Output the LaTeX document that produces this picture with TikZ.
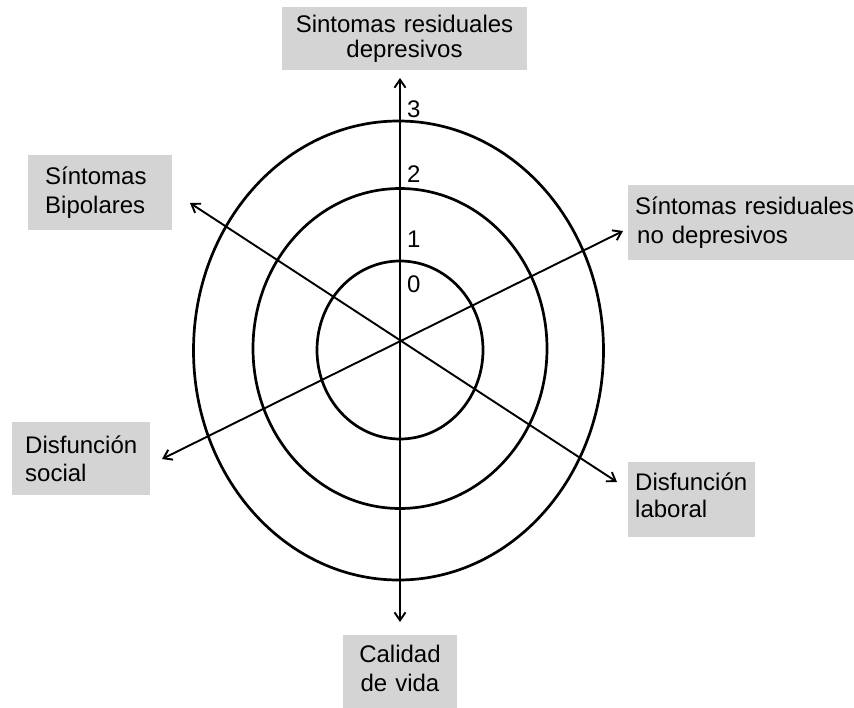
\documentclass[tikz,border=0pt]{standalone}
\usepackage{fontspec}
\setmainfont{Liberation Sans}
\usetikzlibrary{arrows.meta}
\definecolor{boxgray}{RGB}{212,212,212}
\begin{document}
\begin{tikzpicture}[x=1pt,y=-1pt,
  ring/.style={line width=2.7pt},
  axis/.style={line width=1.9pt,{Straight Barb[length=8pt,width=11pt]}-{Straight Barb[length=8pt,width=11pt]}},
  lbl/.style={fill=boxgray,inner ysep=0pt,anchor=north west},
  num/.style={anchor=base west,inner sep=0pt,font=\fontsize{24}{28}\selectfont}]
\useasboundingbox (0,0) rectangle (854,707);
\fill[white] (0,0) rectangle (854,707);
% labels
\node[lbl, anchor=north, align=center, text width=245pt, inner xsep=0pt, minimum height=63pt,
      font=\fontsize{24}{25}\selectfont] (top) at (404.5,7) {Sintomas residuales\\depresivos};
\node[lbl, align=left, text width=110pt, inner xsep=17pt, minimum height=75pt,
      font=\fontsize{24}{29}\selectfont] (bip) at (28,155) {Síntomas\\Bipolares};
\node[lbl, align=left, text width=220pt, inner xsep=7pt, minimum height=75pt,
      font=\fontsize{24}{29}\selectfont] (res) at (628,185) {Síntomas residuales\\\hspace*{2pt}no depresivos};
\node[lbl, align=left, text width=112pt, inner xsep=13pt, minimum height=73pt,
      font=\fontsize{24}{28}\selectfont] (soc) at (12,422) {Disfunción\\social};
\node[lbl, align=left, text width=113pt, inner xsep=7pt, minimum height=75pt,
      font=\fontsize{24}{27}\selectfont] (lab) at (628,462) {Disfunción\\laboral\rule[-9pt]{0pt}{1pt}};
\node[lbl, anchor=north, align=center, text width=100pt, inner xsep=7pt, inner ysep=10pt,
      font=\fontsize{24}{29}\selectfont] (cal) at (400,635) {Calidad\\de vida\rule[-20pt]{0pt}{1pt}};
% scale numbers
\node[num] (n3) at (407,117) {3};
\node[num] (n2) at (407,182) {2};
\node[num] (n1) at (407,247) {1};
\node[num] (n0) at (407,292) {0};
% rings
\draw[ring] (400,350) ellipse [x radius=83pt, y radius=89pt];
\draw[ring] (400,348.5) ellipse [x radius=147pt, y radius=160pt];
\draw[ring] (398.5,350.5) ellipse [x radius=205pt, y radius=229.5pt];
% axes
\coordinate (c) at (400,340.5);
\coordinate (tTop) at (400,78);
\coordinate (tBot) at (400,622);
\coordinate (tUL) at (190,203);
\coordinate (tLR) at (617,482);
\coordinate (tUR) at (623,231);
\coordinate (tLL) at (162,459);
\draw[axis] (tTop) -- (tBot);
\draw[axis] (tUL) -- (tLR);
\draw[axis] (tUR) -- (tLL);
\end{tikzpicture}
\end{document}
